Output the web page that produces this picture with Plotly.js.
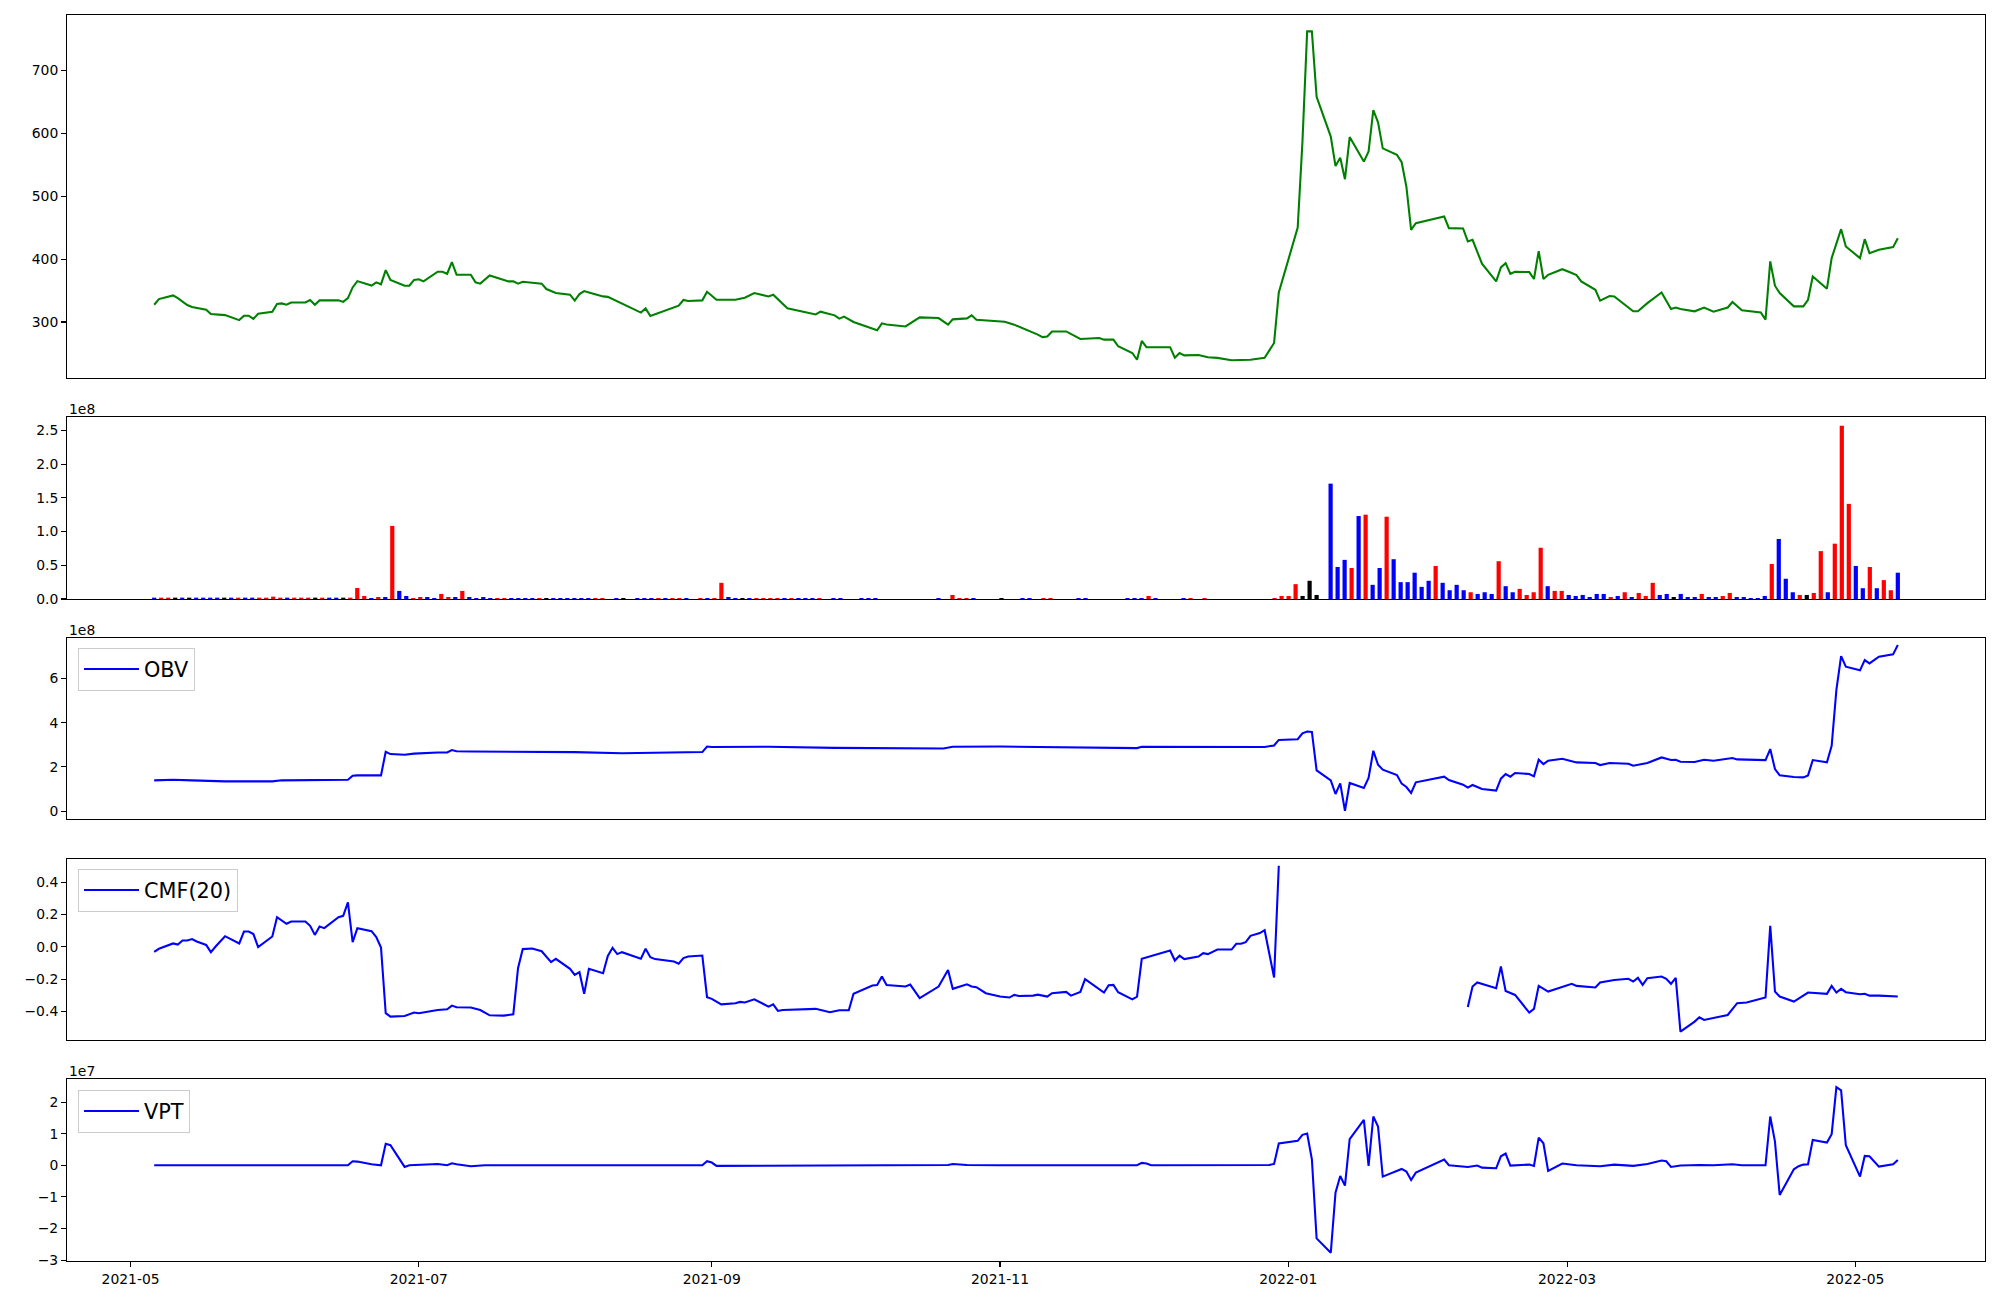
<!DOCTYPE html>
<html><head><meta charset="utf-8">
<script src="https://cdn.plot.ly/plotly-3.0.1.min.js"></script>
<style>html,body{margin:0;padding:0;background:#fff;}#chart{width:2000px;height:1300px;}</style>
</head><body><div id="chart"></div>
<script>
// ---------- price (close) ----------
const priceDates = [
"2021-05-06","2021-05-07","2021-05-10","2021-05-11","2021-05-13","2021-05-14","2021-05-17","2021-05-18","2021-05-21","2021-05-24","2021-05-25","2021-05-26","2021-05-27","2021-05-28","2021-05-31",
"2021-06-01","2021-06-02","2021-06-03","2021-06-04","2021-06-07","2021-06-08","2021-06-09","2021-06-10","2021-06-14","2021-06-15","2021-06-16","2021-06-17","2021-06-18","2021-06-21","2021-06-22","2021-06-23","2021-06-24","2021-06-25","2021-06-28","2021-06-29","2021-06-30",
"2021-07-01","2021-07-02","2021-07-05","2021-07-06","2021-07-07","2021-07-08","2021-07-09","2021-07-12","2021-07-13","2021-07-14","2021-07-16","2021-07-20","2021-07-21","2021-07-22","2021-07-23","2021-07-27","2021-07-28","2021-07-30",
"2021-08-02","2021-08-03","2021-08-04","2021-08-05","2021-08-06","2021-08-09","2021-08-10","2021-08-12","2021-08-17","2021-08-18","2021-08-19","2021-08-25","2021-08-26","2021-08-27","2021-08-30","2021-08-31",
"2021-09-01","2021-09-02","2021-09-06","2021-09-07","2021-09-08","2021-09-10","2021-09-13","2021-09-14","2021-09-17","2021-09-23","2021-09-24","2021-09-27","2021-09-28","2021-09-29",
"2021-10-01","2021-10-06","2021-10-07","2021-10-08","2021-10-12","2021-10-15","2021-10-19","2021-10-21","2021-10-22","2021-10-25","2021-10-26","2021-10-27",
"2021-11-02","2021-11-04","2021-11-08","2021-11-09","2021-11-10","2021-11-11","2021-11-12","2021-11-15","2021-11-18","2021-11-22","2021-11-23","2021-11-25","2021-11-26","2021-11-29","2021-11-30",
"2021-12-01","2021-12-02","2021-12-07","2021-12-08","2021-12-09","2021-12-10","2021-12-13","2021-12-15","2021-12-17","2021-12-20","2021-12-22","2021-12-24","2021-12-27","2021-12-29","2021-12-30",
"2022-01-03","2022-01-04","2022-01-05","2022-01-06","2022-01-07","2022-01-10","2022-01-11","2022-01-12","2022-01-13","2022-01-14","2022-01-17","2022-01-18","2022-01-19","2022-01-20","2022-01-21","2022-01-24","2022-01-25","2022-01-26","2022-01-27","2022-01-28",
"2022-02-03","2022-02-04","2022-02-07","2022-02-08","2022-02-09","2022-02-11","2022-02-14","2022-02-15","2022-02-16","2022-02-17","2022-02-18","2022-02-21","2022-02-22","2022-02-23","2022-02-24","2022-02-25","2022-02-28",
"2022-03-02","2022-03-03","2022-03-04","2022-03-07","2022-03-08","2022-03-10","2022-03-11","2022-03-15","2022-03-16","2022-03-18","2022-03-21","2022-03-23","2022-03-24","2022-03-25","2022-03-28","2022-03-30",
"2022-04-01","2022-04-04","2022-04-05","2022-04-07","2022-04-11","2022-04-12","2022-04-13","2022-04-14","2022-04-15","2022-04-18","2022-04-20","2022-04-21","2022-04-22","2022-04-25","2022-04-26","2022-04-28","2022-04-29",
"2022-05-02","2022-05-03","2022-05-04","2022-05-06","2022-05-09","2022-05-10"];
const priceClose = [
327.5,336.5,342.3,338,327,324,319.6,312.7,311,303,310,310,305,313,316.4,
328.6,329.6,327.5,331,331,335,327.5,334.4,334.4,332,338,355,365,358,363,360,382.5,367,357.7,357.7,367,
368,364.6,380,380,376.7,395.2,375,375,363,361,374,364.6,364.6,361,364,361,352.4,346,
343.4,334,344.4,349.2,347,340.7,340,332.8,315,321.7,309.5,326,335,333.3,334.4,348,
341.8,335.4,335.4,337,338.6,346,340.7,343.4,321.7,312,316.4,310.6,305.3,308.5,
300,286.8,297.9,296,293,307.4,306.3,295.8,304.2,305.8,310.6,303.7,
300.5,295.8,283.6,280,276,277,285,285,273,274.6,272,272,261.4,250.8,240,
270,260,260,243.4,250.8,247,247.6,244,243,239.2,239.2,240,243,266.7,347,
450,586,762,762,658,594.7,548,561,527,594,555,571,637,617.5,576,565.6,554,515,446.6,457,
467.7,449.2,448.7,428,430.7,392.6,364.6,386.8,393.6,376.7,380,379.4,368.3,412.7,368.3,375,384,
378,374.6,364.6,351.3,333.9,341.3,340.7,317,317,330,347,320.6,323,320.6,317,323,
316.4,323,331.7,318.5,315.3,303.7,396.3,357.7,346,324.9,324.9,335.4,372.5,353,401.6,447.6,420,
401.6,431.7,409.5,415,419,433.3];

// ---------- volume (one bar per trading session, plotted by session index) ----------
const volume = [
2e6,2e6,2e6,2e6,2e6,2e6,2e6,2e6,2e6,2e6,
2e6,2e6,2e6,2e6,2e6,2e6,2e6,3.5e6,2e6,2e6,
2e6,2e6,2e6,2e6,2e6,2e6,2e6,2e6,2e6,1.63e7,
4.5e6,1.5e6,3e6,3e6,1.084e8,1.2e7,4.5e6,1.5e6,3e6,3e6,
1.5e6,7.5e6,3e6,3e6,1.2e7,3e6,1.5e6,3e6,1.5e6,1.5e6,
1.5e6,1.5e6,1.5e6,1.5e6,1.5e6,1.5e6,1.5e6,1.5e6,1.5e6,1.5e6,
1.5e6,1.5e6,1.5e6,1.5e6,1.5e6,0,1.5e6,1.5e6,0,1.5e6,
1.5e6,1.5e6,1.5e6,1.5e6,1.5e6,1.5e6,1.5e6,0,1.5e6,1.5e6,
1.5e6,2.4e7,3e6,1.5e6,1.5e6,1.5e6,1.5e6,1.5e6,1.5e6,1.5e6,
1.5e6,1.5e6,1.5e6,1.5e6,1.5e6,1.5e6,0,1.5e6,1.5e6,0,
0,1.5e6,1.5e6,1.5e6,0,0,0,0,0,0,
0,0,1.5e6,0,6e6,1.5e6,1.5e6,1.5e6,0,0,
0,1.5e6,0,0,1.5e6,1.5e6,0,1.5e6,1.5e6,0,
0,0,1.5e6,1.5e6,0,0,0,0,0,1.5e6,
1.5e6,1.5e6,4.5e6,1.5e6,0,0,0,1.5e6,1.5e6,0,
1.5e6,0,0,0,0,0,0,0,0,0,
1.5e6,4.5e6,4.5e6,2.2e7,4.5e6,2.7e7,6e6,0,1.71e8,4.75e7,
5.8e7,4.6e7,1.23e8,1.25e8,2.1e7,4.6e7,1.22e8,5.9e7,2.5e7,2.5e7,
3.9e7,1.8e7,2.7e7,4.9e7,2.4e7,1.3e7,2.1e7,1.3e7,1.0e7,7.5e6,
1.0e7,7.5e6,5.6e7,1.9e7,1.0e7,1.5e7,6e6,1.0e7,7.6e7,1.9e7,
1.2e7,1.2e7,6e6,4.5e6,6e6,3e6,7.5e6,7.5e6,3e6,4.5e6,
1.0e7,3e6,9e6,4.5e6,2.4e7,6e6,7.5e6,3e6,7.5e6,3e6,
3e6,7.5e6,3e6,3e6,4.5e6,9e6,3e6,3e6,1.5e6,1.5e6,
4.5e6,5.2e7,8.9e7,3.0e7,1.0e7,6e6,6e6,9e6,7.1e7,1.0e7,
8.2e7,2.57e8,1.41e8,4.9e7,1.6e7,4.75e7,1.6e7,2.8e7,1.3e7,3.9e7];
// candle direction per session: U = close above open, D = below, F = unchanged
const volumeDirection = (
"DUUFDFDDDD"+"FDUDDUUUUD"+"UUUFUDDFUU"+"UDUDUDDUUD"+"DUUDUDDDDU"+
"UDDDDUFDDD"+"DDDUUFDFFD"+"DDUDUUDFUD"+"UUDDFDUUUU"+"DUDDDUFDDF"+
"FDDDFFFFFF"+"FFDFUUUDFF"+"FFFFDDFUUF"+"FFDDFFFFFD"+"DDUDFFFDUF"+
"UFFFFFFFFF"+"UUUUFFFFDD"+"DUDUDDUDDD"+"DDDUDDDDUD"+"DDUDDUUUUD"+
"UUDDDDDDUD"+"UDUUUDDFDD"+"DUDDUUDDDD"+"DUDDDUFUUD"+"UUUDDUDUUD").split("").slice(0,250);
const directionColor = {U: "red", D: "blue", F: "black"};

// ---------- OBV ----------
const obvDates = ["2021-05-06","2021-05-10","2021-05-14","2021-05-21","2021-05-31","2021-06-02","2021-06-16","2021-06-17","2021-06-18","2021-06-22","2021-06-23","2021-06-24","2021-06-25","2021-06-28","2021-06-30","2021-07-05","2021-07-07","2021-07-08","2021-07-09","2021-07-12","2021-07-20","2021-08-03","2021-08-13","2021-08-24","2021-08-30","2021-08-31","2021-09-01","2021-09-13","2021-09-27","2021-10-20","2021-10-22","2021-11-01","2021-11-15","2021-11-30","2021-12-01","2021-12-10","2021-12-27","2021-12-29","2021-12-30",
"2022-01-03","2022-01-04","2022-01-05","2022-01-06","2022-01-07","2022-01-10","2022-01-11","2022-01-12","2022-01-13","2022-01-14","2022-01-17","2022-01-18","2022-01-19","2022-01-20","2022-01-21","2022-01-24","2022-01-25","2022-01-26","2022-01-27","2022-01-28",
"2022-02-03","2022-02-04","2022-02-07","2022-02-08","2022-02-09","2022-02-11","2022-02-14","2022-02-15","2022-02-16","2022-02-17","2022-02-18","2022-02-21","2022-02-22","2022-02-23","2022-02-24","2022-02-25","2022-02-28",
"2022-03-03","2022-03-07","2022-03-08","2022-03-10","2022-03-14","2022-03-15","2022-03-18","2022-03-21","2022-03-23","2022-03-24","2022-03-25","2022-03-28","2022-03-30",
"2022-04-01","2022-04-05","2022-04-06","2022-04-12","2022-04-13","2022-04-14","2022-04-15","2022-04-18","2022-04-20","2022-04-21","2022-04-22","2022-04-25","2022-04-26","2022-04-27","2022-04-28","2022-04-29",
"2022-05-02","2022-05-03","2022-05-04","2022-05-06","2022-05-09","2022-05-10"];
const obvValues = [1.395e8,1.42e8,1.395e8,1.35e8,1.35e8,1.395e8,1.42e8,1.6e8,1.62e8,1.6e8,1.62e8,2.685e8,2.58e8,2.55e8,2.6e8,2.65e8,2.65e8,2.76e8,2.71e8,2.7e8,2.7e8,2.67e8,2.62e8,2.67e8,2.67e8,2.92e8,2.9e8,2.91e8,2.86e8,2.83e8,2.91e8,2.92e8,2.9e8,2.85e8,2.91e8,2.9e8,2.9e8,2.97e8,3.22e8,
3.25e8,3.52e8,3.6e8,3.58e8,1.845e8,1.395e8,0.78e8,1.26e8,0.02e8,1.275e8,1.05e8,1.5e8,2.73e8,2.1e8,1.875e8,1.635e8,1.245e8,1.095e8,0.825e8,1.305e8,
1.56e8,1.41e8,1.2e8,1.065e8,1.185e8,1.005e8,0.93e8,1.47e8,1.68e8,1.56e8,1.725e8,1.68e8,1.575e8,2.325e8,2.13e8,2.28e8,2.37e8,
2.205e8,2.175e8,2.085e8,2.175e8,2.145e8,2.055e8,2.175e8,2.43e8,2.31e8,2.325e8,2.235e8,2.22e8,2.325e8,
2.28e8,2.4e8,2.34e8,2.31e8,2.805e8,1.905e8,1.62e8,1.545e8,1.53e8,1.62e8,2.31e8,2.205e8,2.955e8,5.475e8,7.005e8,6.525e8,
6.36e8,6.825e8,6.675e8,6.975e8,7.08e8,7.5e8];

// ---------- CMF(20) (null = undefined window) ----------
const cmfDates = ["2021-05-06","2021-05-07","2021-05-10","2021-05-11","2021-05-12","2021-05-13","2021-05-14","2021-05-15","2021-05-17","2021-05-18","2021-05-19","2021-05-21","2021-05-24","2021-05-25","2021-05-26","2021-05-27","2021-05-28","2021-05-31",
"2021-06-01","2021-06-02","2021-06-03","2021-06-04","2021-06-07","2021-06-08","2021-06-09","2021-06-10","2021-06-11","2021-06-14","2021-06-15","2021-06-16","2021-06-17","2021-06-18","2021-06-21","2021-06-22","2021-06-23","2021-06-24","2021-06-25","2021-06-28","2021-06-30",
"2021-07-01","2021-07-05","2021-07-07","2021-07-08","2021-07-09","2021-07-12","2021-07-14","2021-07-16","2021-07-19","2021-07-21","2021-07-22","2021-07-23","2021-07-25","2021-07-27","2021-07-29","2021-07-30",
"2021-08-02","2021-08-03","2021-08-04","2021-08-05","2021-08-06","2021-08-09","2021-08-10","2021-08-11","2021-08-12","2021-08-13","2021-08-17","2021-08-18","2021-08-19","2021-08-20","2021-08-24","2021-08-25","2021-08-26","2021-08-27","2021-08-30","2021-08-31",
"2021-09-01","2021-09-03","2021-09-06","2021-09-07","2021-09-08","2021-09-10","2021-09-13","2021-09-14","2021-09-15","2021-09-16","2021-09-23","2021-09-24","2021-09-26","2021-09-28","2021-09-30",
"2021-10-01","2021-10-05","2021-10-06","2021-10-07","2021-10-08","2021-10-12","2021-10-13","2021-10-15","2021-10-19","2021-10-21","2021-10-22","2021-10-25","2021-10-26","2021-10-27","2021-10-29",
"2021-11-01","2021-11-03","2021-11-04","2021-11-05","2021-11-08","2021-11-09","2021-11-11","2021-11-12","2021-11-15","2021-11-16","2021-11-18","2021-11-19","2021-11-23","2021-11-24","2021-11-25","2021-11-26","2021-11-29","2021-11-30",
"2021-12-01","2021-12-07","2021-12-08","2021-12-09","2021-12-10","2021-12-13","2021-12-14","2021-12-15","2021-12-17","2021-12-20","2021-12-21","2021-12-22","2021-12-23","2021-12-24","2021-12-26","2021-12-27","2021-12-29","2021-12-30",
"2022-01-03",
"2022-02-08","2022-02-09","2022-02-10","2022-02-14","2022-02-15","2022-02-16","2022-02-18","2022-02-21","2022-02-22","2022-02-23","2022-02-25",
"2022-03-02","2022-03-03","2022-03-07","2022-03-08","2022-03-11","2022-03-14","2022-03-15","2022-03-16","2022-03-17","2022-03-18","2022-03-21","2022-03-22","2022-03-23","2022-03-24","2022-03-25","2022-03-28","2022-03-29","2022-03-30",
"2022-04-04","2022-04-06","2022-04-08","2022-04-12","2022-04-13","2022-04-14","2022-04-15","2022-04-18","2022-04-21","2022-04-25","2022-04-26","2022-04-27","2022-04-28","2022-04-29",
"2022-05-02","2022-05-03","2022-05-04","2022-05-06","2022-05-10"];
const cmfValues = [-0.031,-0.012,0.021,0.014,0.039,0.039,0.048,0.033,0.012,-0.033,0.002,0.066,0.021,0.095,0.095,0.079,-0.002,0.064,
0.184,0.161,0.143,0.157,0.157,0.13,0.074,0.126,0.116,0.184,0.192,0.275,0.029,0.116,0.097,0.06,-0.004,-0.411,-0.432,-0.428,-0.407,
-0.411,-0.391,-0.387,-0.364,-0.374,-0.376,-0.391,-0.424,-0.426,-0.418,-0.132,-0.014,-0.010,-0.027,-0.095,-0.074,
-0.136,-0.174,-0.157,-0.291,-0.136,-0.163,-0.056,-0.006,-0.045,-0.033,-0.074,-0.012,-0.064,-0.076,-0.091,-0.105,-0.07,-0.06,-0.054,-0.312,
-0.322,-0.356,-0.349,-0.341,-0.345,-0.325,-0.37,-0.356,-0.397,-0.391,-0.384,-0.391,-0.405,-0.393,-0.393,
-0.291,-0.240,-0.236,-0.184,-0.236,-0.246,-0.234,-0.318,-0.246,-0.143,-0.260,-0.232,-0.246,-0.25,-0.287,
-0.308,-0.314,-0.298,-0.304,-0.302,-0.296,-0.308,-0.287,-0.279,-0.302,-0.279,-0.2,-0.283,-0.238,-0.236,-0.281,-0.325,-0.308,
-0.074,-0.023,-0.085,-0.054,-0.076,-0.06,-0.039,-0.045,-0.017,-0.017,0.019,0.019,0.029,0.068,0.085,0.103,-0.19,0.502,
null,
-0.372,-0.246,-0.221,-0.256,-0.122,-0.273,-0.298,-0.407,-0.384,-0.242,-0.277,
-0.229,-0.242,-0.252,-0.221,-0.205,-0.198,-0.215,-0.192,-0.236,-0.194,-0.184,-0.198,-0.229,-0.192,-0.525,-0.463,-0.436,-0.453,
-0.422,-0.349,-0.345,-0.314,0.130,-0.277,-0.308,-0.339,-0.283,-0.291,-0.242,-0.283,-0.260,-0.281,
-0.294,-0.291,-0.302,-0.302,-0.308];

// ---------- VPT ----------
const vptDates = ["2021-05-06","2021-06-16","2021-06-17","2021-06-18","2021-06-21","2021-06-23","2021-06-24","2021-06-25","2021-06-28","2021-06-29","2021-07-05","2021-07-07","2021-07-08","2021-07-09","2021-07-12","2021-07-15","2021-08-30","2021-08-31","2021-09-01","2021-09-02","2021-10-21","2021-10-22","2021-10-25","2021-11-01","2021-11-30","2021-12-01","2021-12-02","2021-12-03","2021-12-28","2021-12-29","2021-12-30",
"2022-01-03","2022-01-04","2022-01-05","2022-01-06","2022-01-07","2022-01-10","2022-01-11","2022-01-12","2022-01-13","2022-01-14","2022-01-17","2022-01-18","2022-01-19","2022-01-20","2022-01-21","2022-01-25","2022-01-26","2022-01-27","2022-01-28",
"2022-02-03","2022-02-04","2022-02-08","2022-02-10","2022-02-11","2022-02-14","2022-02-15","2022-02-16","2022-02-17","2022-02-18","2022-02-21","2022-02-22","2022-02-23","2022-02-24","2022-02-25","2022-02-28",
"2022-03-03","2022-03-08","2022-03-11","2022-03-15","2022-03-17","2022-03-18","2022-03-21","2022-03-22","2022-03-23","2022-03-25","2022-03-29",
"2022-04-01","2022-04-05","2022-04-07","2022-04-12","2022-04-13","2022-04-14","2022-04-15","2022-04-18","2022-04-19","2022-04-20","2022-04-21","2022-04-22","2022-04-25","2022-04-26","2022-04-27","2022-04-28","2022-04-29",
"2022-05-02","2022-05-03","2022-05-04","2022-05-06","2022-05-09","2022-05-10"];
const vptValues = [0,0,1.27e6,1.16e6,3e5,0,6.77e6,6.34e6,-5.3e5,0,4.2e5,0,6.3e5,3e5,-3e5,0,0,1.27e6,8.5e5,-2e5,1e5,4e5,1e5,0,0,7.4e5,5.3e5,0,1e5,4.2e5,6.87e6,
7.72e6,9.62e6,1.004e7,1.9e6,-2.315e7,-2.77e7,-8.67e6,-3.38e6,-6.45e6,8.25e6,1.438e7,-2e5,1.543e7,1.226e7,-3.59e6,-1.16e6,-2e6,-4.65e6,-2.33e6,
1.8e6,0,-5.3e5,-1e5,-7.4e5,-9.5e5,2.85e6,3.7e6,-1e5,0,2.1e5,-2e5,8.77e6,6.98e6,-1.8e6,5.3e5,
0,-3e5,2e5,-2e5,3e5,4.2e5,1.48e6,1.27e6,-5.3e5,-1e5,1e5,
0,3e5,0,0,1.543e7,7.5e6,-9.4e6,-1.27e6,-3e5,2e5,3e5,8.03e6,7.19e6,9.83e6,2.474e7,2.368e7,6.34e6,
-3.59e6,2.96e6,2.85e6,-4.2e5,3e5,1.69e6];

// ---------- ticks ----------
const dateTicks = ["2021-05-01","2021-07-01","2021-09-01","2021-11-01","2022-01-01","2022-03-01","2022-05-01"];
const dateTickText = ["2021-05","2021-07","2021-09","2021-11","2022-01","2022-03","2022-05"];
const priceTicks = [300,400,500,600,700];
const volumeTicks = [0,0.5e8,1e8,1.5e8,2e8,2.5e8];
const volumeTickText = ["0.0","0.5","1.0","1.5","2.0","2.5"];
const obvTicks = [0,2e8,4e8,6e8];
const obvTickText = ["0","2","4","6"];
const cmfTicks = [-0.4,-0.2,0,0.2,0.4];
const cmfTickText = ["\u22120.4","\u22120.2","0.0","0.2","0.4"];
const vptTicks = [-3e7,-2e7,-1e7,0,1e7,2e7];
const vptTickText = ["\u22123","\u22122","\u22121","0","1","2"];

// ---------- layout ----------
const W = 2000, H = 1300;
const FONT = "DejaVu Sans, sans-serif";
const tickFont = {family: FONT, size: 13.9, color: "#000"};
const xDom = [67 / W, 1985 / W];
const dom = (top, bottom) => [1 - bottom / H, 1 - top / H];
const D1 = dom(15, 378), D2 = dom(417, 599), D3 = dom(638, 819), D4 = dom(859, 1040), D5 = dom(1079, 1261);
const dateRange = ["2021-04-17 13:12", "2022-05-28 10:48"];

function yAx(domain, range, vals, text, anchor) {
  return {domain, range, anchor, tickmode: "array", tickvals: vals, ticktext: text,
    showgrid: false, zeroline: false, showline: true, mirror: true, linecolor: "#000", linewidth: 1.1,
    ticks: "outside", ticklen: 4.9, tickwidth: 1.1, tickcolor: "#000", tickfont: tickFont, fixedrange: true};
}
function xAx(anchor, type, range, labels) {
  const a = {domain: xDom, anchor, type, range, showgrid: false, zeroline: false, showline: true, mirror: true,
    linecolor: "#000", linewidth: 1.1, fixedrange: true};
  if (labels) {
    Object.assign(a, {tickmode: "array", tickvals: dateTicks, ticktext: dateTickText, ticks: "outside",
      ticklen: 4.9, tickwidth: 1.1, tickcolor: "#000", tickfont: tickFont, showticklabels: true});
  } else {
    Object.assign(a, {ticks: "", showticklabels: false});
  }
  return a;
}

const traces = [
  {type: "scatter", mode: "lines", x: priceDates, y: priceClose, xaxis: "x", yaxis: "y",
   line: {color: "green", width: 2.08}, showlegend: false, hoverinfo: "skip"},
  {type: "bar", x: volume.map((_, i) => i), y: volume, xaxis: "x2", yaxis: "y2", width: 0.6,
   marker: {color: volumeDirection.map(d => directionColor[d]), line: {width: 0}}, showlegend: false, hoverinfo: "skip"},
  {type: "scatter", mode: "lines", name: "OBV", x: obvDates, y: obvValues, xaxis: "x3", yaxis: "y3",
   line: {color: "blue", width: 2.08}, legend: "legend", hoverinfo: "skip"},
  {type: "scatter", mode: "lines", name: "CMF(20)", x: cmfDates, y: cmfValues, xaxis: "x4", yaxis: "y4",
   line: {color: "blue", width: 2.08}, connectgaps: false, legend: "legend2", hoverinfo: "skip"},
  {type: "scatter", mode: "lines", name: "VPT", x: vptDates, y: vptValues, xaxis: "x5", yaxis: "y5",
   line: {color: "blue", width: 2.08}, legend: "legend3", hoverinfo: "skip"}
];

const legendStyle = (yTop) => ({x: 78 / W, y: 1 - yTop / H, xanchor: "left", yanchor: "top",
  bgcolor: "rgba(255,255,255,0.8)", bordercolor: "#cccccc", borderwidth: 1, itemwidth: 55,
  font: {family: FONT, size: 20.8, color: "#000"}});

const offsetNote = (text, top) => ({xref: "paper", yref: "paper", x: 67 / W, y: 1 - top / H, yshift: -2,
  xanchor: "left", yanchor: "bottom", text, showarrow: false, font: tickFont});

const layout = {
  width: W, height: H, margin: {l: 0, r: 0, t: 0, b: 0},
  paper_bgcolor: "#fff", plot_bgcolor: "#fff", showlegend: true,
  font: {family: FONT, color: "#000"},
  xaxis: xAx("y", "date", dateRange, false),
  xaxis2: xAx("y2", "linear", [-12.45, 261.45], false),
  xaxis3: xAx("y3", "date", dateRange, false),
  xaxis4: xAx("y4", "date", dateRange, false),
  xaxis5: xAx("y5", "date", dateRange, true),
  yaxis: yAx(D1, [211, 788], priceTicks, priceTicks.map(String), "x"),
  yaxis2: yAx(D2, [0, 2.698e8], volumeTicks, volumeTickText, "x2"),
  yaxis3: yAx(D3, [-0.35e8, 7.82e8], obvTicks, obvTickText, "x3"),
  yaxis4: yAx(D4, [-0.577, 0.544], cmfTicks, cmfTickText, "x4"),
  yaxis5: yAx(D5, [-3.03e7, 2.73e7], vptTicks, vptTickText, "x5"),
  legend: legendStyle(648),
  legend2: legendStyle(869),
  legend3: legendStyle(1090),
  annotations: [offsetNote("1e8", 417), offsetNote("1e8", 638), offsetNote("1e7", 1079)]
};

Plotly.newPlot("chart", traces, layout, {staticPlot: true, displayModeBar: false});
</script></body></html>
